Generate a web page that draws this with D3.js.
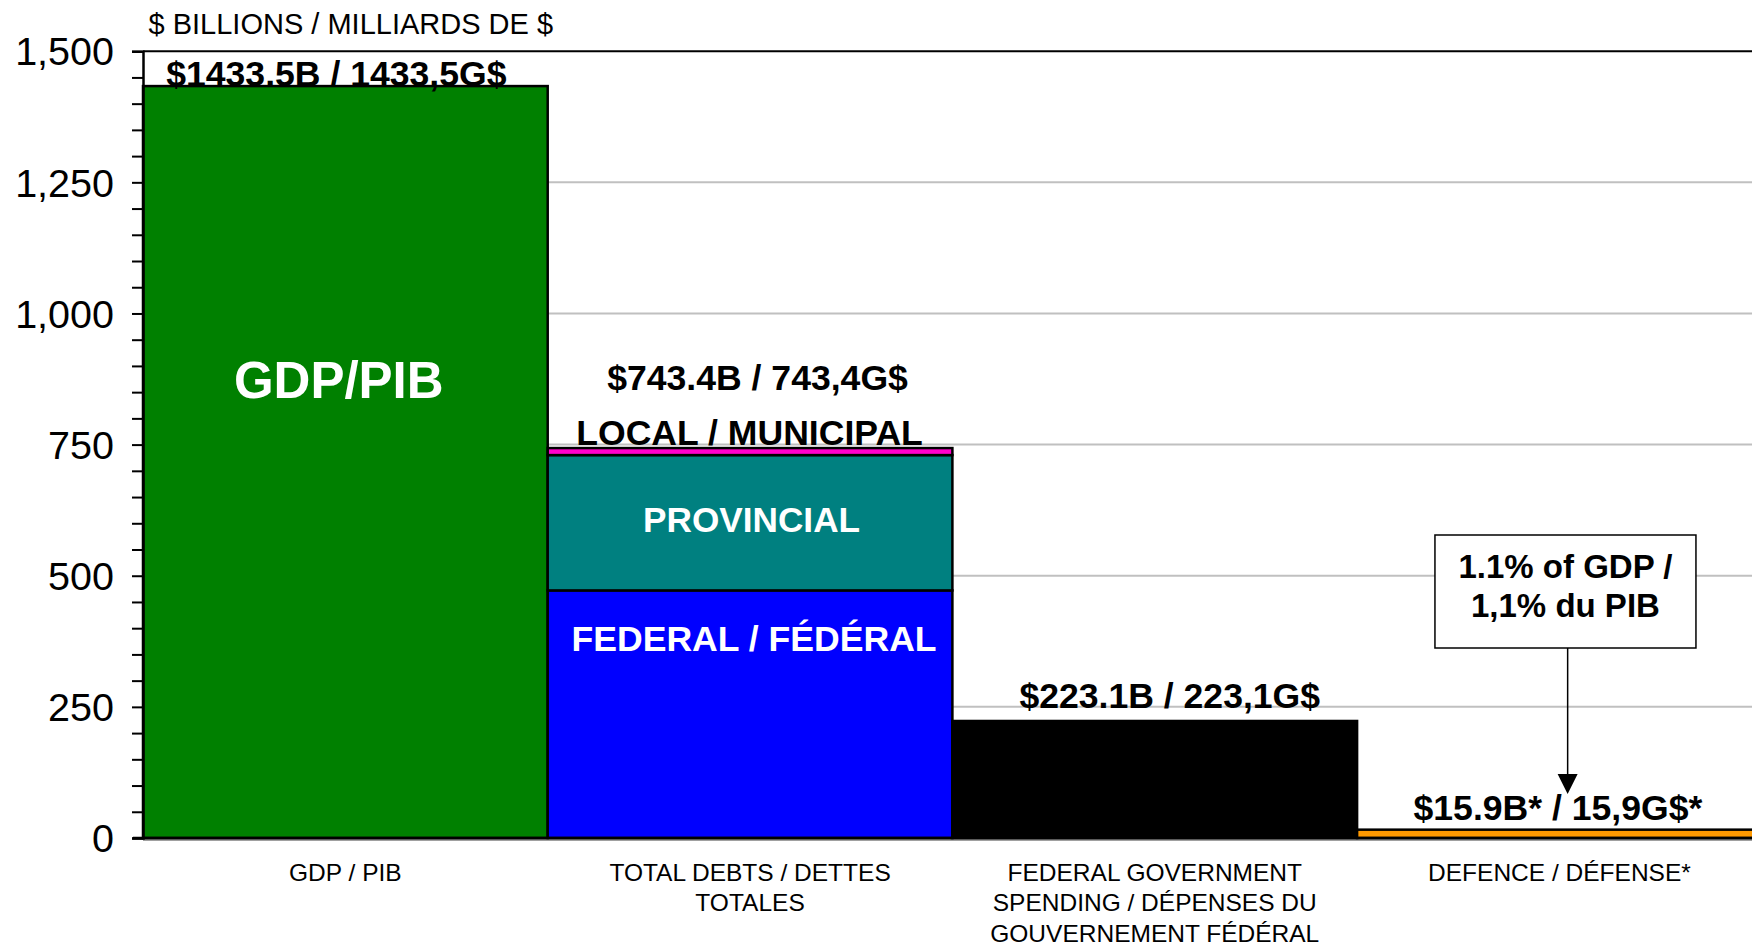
<!DOCTYPE html>
<html><head><meta charset="utf-8">
<script src="https://cdn.jsdelivr.net/npm/d3@7"></script>
<style>
html,body{margin:0;padding:0;background:#fff;}
svg{display:block;font-family:"Liberation Sans",Arial,sans-serif;}
</style></head>
<body><svg id="chart" width="1752" height="947"></svg>
<script>
// ---- data ----
const categories = ["GDP / PIB", "TOTAL DEBTS / DETTES TOTALES", "FEDERAL GOVERNMENT SPENDING / DÉPENSES DU GOUVERNEMENT FÉDÉRAL", "DEFENCE / DÉFENSE*"];
const categoryLines = [
  ["GDP / PIB"],
  ["TOTAL DEBTS / DETTES", "TOTALES"],
  ["FEDERAL GOVERNMENT", "SPENDING  / DÉPENSES DU", "GOUVERNEMENT FÉDÉRAL"],
  ["DEFENCE / DÉFENSE*"]
];
const seriesKeys = ["gdp", "federalDebt", "provincialDebt", "localDebt", "federalSpending", "defence"];
const gdp = [1433.5, 0, 0, 0];
const federalDebt = [0, 472, 0, 0];
const provincialDebt = [0, 258, 0, 0];
const localDebt = [0, 13.4, 0, 0];
const federalSpending = [0, 0, 223.1, 0];
const defence = [0, 0, 0, 15.9];
const totals = [1433.5, 743.4, 223.1, 15.9];
const valueLabels = ["$1433.5B / 1433,5G$", "$743.4B / 743,4G$", "$223.1B / 223,1G$", "$15.9B* / 15,9G$*"];
const yTicks = [0, 250, 500, 750, 1000, 1250, 1500];
const yTitle = "$ BILLIONS / MILLIARDS DE $";
const segmentLabels = [
  {key: "gdp", text: "GDP/PIB"},
  {key: "provincialDebt", text: "PROVINCIAL"},
  {key: "federalDebt", text: "FEDERAL / FÉDÉRAL"}
];
const annotationLines = ["1.1% of GDP /", "1,1% du PIB"];

const colors = {gdp: "#008000", federalDebt: "#0000FF", provincialDebt: "#008080",
  localDebt: "#FF00CC", federalSpending: "#000000", defence: "#FF9900"};

// ---- table ----
const vals = {gdp, federalDebt, provincialDebt, localDebt, federalSpending, defence};
const table = categories.map((c, i) => {
  const row = {category: c};
  seriesKeys.forEach(k => row[k] = vals[k][i]);
  return row;
});
const stacked = d3.stack().keys(seriesKeys)(table);

// ---- layout ----
const svg = d3.select("#chart");
const left = 143, bandW = 404.7;
const x = d3.scaleBand().domain(categories).range([left, left + 4 * bandW]).padding(0);
const y = d3.scaleLinear().domain([0, 1500]).range([838, 51.2]);
const right = 1752;

// gridlines
svg.append("g").selectAll("line").data(yTicks.filter(t => t > 0 && t < 1500)).join("line")
  .attr("x1", left).attr("x2", right).attr("y1", d => y(d)).attr("y2", d => y(d))
  .attr("stroke", "#c0c0c0").attr("stroke-width", 2);
// baseline gray shadow
svg.append("line").attr("x1", left).attr("x2", right).attr("y1", y(0) + 2).attr("y2", y(0) + 2)
  .attr("stroke", "#a0a0a0").attr("stroke-width", 2);

// bars
svg.append("g").selectAll("g").data(stacked).join("g")
  .attr("fill", d => colors[d.key])
  .selectAll("rect").data(d => d.filter(p => p[1] - p[0] > 0)).join("rect")
  .attr("x", d => x(d.data.category))
  .attr("width", x.bandwidth())
  .attr("y", d => y(d[1]))
  .attr("height", d => y(d[0]) - y(d[1]))
  .attr("stroke", "#000").attr("stroke-width", 2.5);

// top border
svg.append("line").attr("x1", left).attr("x2", right).attr("y1", y(1500)).attr("y2", y(1500))
  .attr("stroke", "#000").attr("stroke-width", 2);
// x axis line
svg.append("line").attr("x1", left - 10).attr("x2", right).attr("y1", y(0)).attr("y2", y(0))
  .attr("stroke", "#000").attr("stroke-width", 2.5);

// y axis
const yAxis = d3.axisLeft(y).tickValues(d3.range(0, 1501, 50)).tickSize(11).tickFormat("");
const yg = svg.append("g").attr("transform", `translate(${left},0)`).call(yAxis);
yg.select(".domain").attr("stroke", "#000").attr("stroke-width", 2.5);
yg.selectAll(".tick line").attr("stroke", "#000").attr("stroke-width", 2);
svg.append("g").selectAll("text").data(yTicks).join("text")
  .attr("x", 114).attr("y", d => y(d)).attr("dy", "0.36em")
  .attr("text-anchor", "end").attr("font-size", 39.5).attr("fill", "#000")
  .text(d => d3.format(",")(d));

// y title
svg.append("text").attr("x", 148.5).attr("y", 33.5).attr("font-size", 29).attr("fill", "#000")
  .text(yTitle);

// x category labels
categoryLines.forEach((lines, i) => {
  const cx = x(categories[i]) + x.bandwidth() / 2;
  const t = svg.append("text").attr("text-anchor", "middle").attr("font-size", 24.5).attr("fill", "#000");
  lines.forEach((ln, j) => {
    t.append("tspan").attr("x", cx).attr("y", y(0) + 42.5 + j * 30.5).text(ln);
  });
});

// value labels above bars
const valueOffsets = [{dx: -9, dy: 0}, {dx: 7.5, dy: -58}, {dx: 15, dy: -13}, {dx: -1.5, dy: -10}];
valueLabels.forEach((lab, i) => {
  svg.append("text")
    .attr("x", x(categories[i]) + x.bandwidth() / 2 + valueOffsets[i].dx)
    .attr("y", y(totals[i]) + valueOffsets[i].dy)
    .attr("text-anchor", "middle").attr("font-size", 35.6).attr("font-weight", "bold").attr("fill", "#000")
    .text(lab);
});

// LOCAL / MUNICIPAL
svg.append("text")
  .attr("x", x(categories[1]) + x.bandwidth() / 2 - 0.5)
  .attr("y", y(totals[1]) - 3)
  .attr("text-anchor", "middle").attr("font-size", 35.6).attr("font-weight", "bold").attr("fill", "#000")
  .text("LOCAL / MUNICIPAL");

// segment labels (white)
const segStyle = {gdp: {dx: -6.6, ref: "top", dy: 311.5, size: 51}, provincialDebt: {dx: 1.5, ref: "mid", dy: 9, size: 35.2}, federalDebt: {dx: 4, ref: "top", dy: 60.4, size: 35.6}};
segmentLabels.forEach(s => {
  const layer = stacked.find(l => l.key === s.key);
  const p = layer.find(d => d[1] - d[0] > 0);
  const st = segStyle[s.key];
  const yy = st.ref === "top" ? y(p[1]) + st.dy : (y(p[0]) + y(p[1])) / 2 + st.dy;
  svg.append("text")
    .attr("x", x(p.data.category) + x.bandwidth() / 2 + st.dx)
    .attr("y", yy)
    .attr("text-anchor", "middle").attr("font-size", st.size).attr("font-weight", "bold").attr("fill", "#fff")
    .text(s.text);
});

// annotation box + arrow
const dcx = x(categories[3]) + x.bandwidth() / 2;
const boxX = dcx + 6 - 130.5, boxY = 535, boxW = 261, boxH = 113;
svg.append("rect").attr("x", boxX).attr("y", boxY).attr("width", boxW).attr("height", boxH)
  .attr("fill", "#fff").attr("stroke", "#000").attr("stroke-width", 1.5);
const at = svg.append("text").attr("text-anchor", "middle").attr("font-size", 33).attr("font-weight", "bold").attr("fill", "#000");
annotationLines.forEach((ln, j) => {
  at.append("tspan").attr("x", dcx + 6).attr("y", 578 + j * 39).text(ln);
});
const ax = dcx + 8.2;
svg.append("line").attr("x1", ax).attr("x2", ax).attr("y1", boxY + boxH).attr("y2", 776)
  .attr("stroke", "#000").attr("stroke-width", 1.5);
svg.append("path").attr("d", `M${ax - 10},774 L${ax + 10},774 L${ax},794 Z`).attr("fill", "#000");
</script>
</body></html>
